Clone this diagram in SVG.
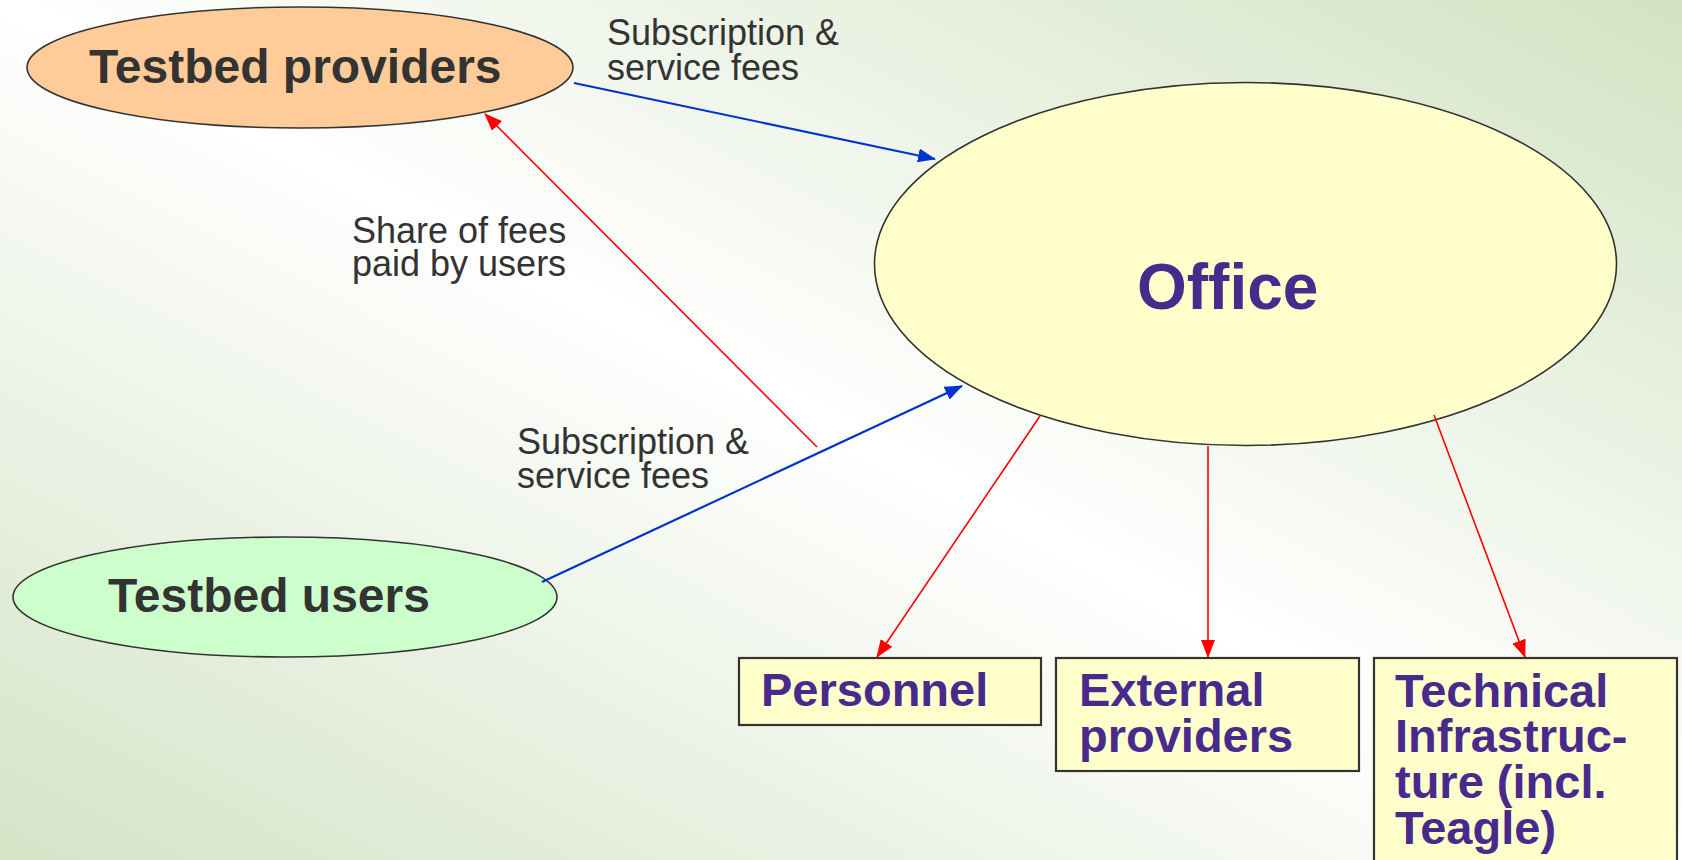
<svg xmlns="http://www.w3.org/2000/svg" width="1682" height="860" viewBox="0 0 1682 860">
<defs>
  <linearGradient id="bg" x1="1" y1="0" x2="0" y2="1">
    <stop offset="0" stop-color="#d2e3c2"/>
    <stop offset="0.5" stop-color="#ffffff"/>
    <stop offset="1" stop-color="#d4e4c6"/>
  </linearGradient>
  <marker id="arRed" markerUnits="userSpaceOnUse" markerWidth="18" markerHeight="14" refX="17" refY="7" orient="auto">
    <path d="M0,0 L18,7 L0,14 z" fill="#ff0000"/>
  </marker>
  <marker id="arBlue" markerUnits="userSpaceOnUse" markerWidth="18" markerHeight="14" refX="17" refY="7" orient="auto">
    <path d="M0,0 L18,7 L0,14 z" fill="#0033cc"/>
  </marker>
</defs>
<style>
  .ell { stroke: #333333; stroke-width: 1.6; }
  .box { fill: #ffffcc; stroke: #333333; stroke-width: 2.2; }
  .nt { font-family: "Liberation Sans", Arial, sans-serif; font-weight: bold; font-size: 48px; fill: #333333; }
  .pt { font-family: "Liberation Sans", Arial, sans-serif; font-weight: bold; font-size: 47px; fill: #482a8c; }
  .lbl { font-family: "Liberation Sans", Arial, sans-serif; font-size: 36px; fill: #333333; }
  .red { stroke: #ff0000; stroke-width: 1.6; fill: none; marker-end: url(#arRed); }
  .blue { stroke: #0033cc; stroke-width: 2.2; fill: none; marker-end: url(#arBlue); }
</style>
<rect x="0" y="0" width="1682" height="860" fill="url(#bg)"/>

<g id="providers">
  <ellipse class="ell" cx="300" cy="67.5" rx="273" ry="60.5" fill="#ffcc99"/>
  <text class="nt" x="89" y="83">Testbed providers</text>
</g>
<g id="users">
  <ellipse class="ell" cx="285" cy="597" rx="272" ry="60" fill="#ccffcc"/>
  <text class="nt" x="108" y="612">Testbed users</text>
</g>
<g id="office">
  <ellipse class="ell" cx="1245.5" cy="264" rx="371" ry="181.5" fill="#ffffcc"/>
  <text class="pt" x="1137" y="309" style="font-size:64px">Office</text>
</g>
<g id="personnel">
  <rect class="box" x="739" y="658" width="302" height="67"/>
  <text class="pt" x="761" y="706">Personnel</text>
</g>
<g id="external">
  <rect class="box" x="1056" y="658" width="303" height="113"/>
  <text class="pt" x="1079" y="706">External</text>
  <text class="pt" x="1079" y="752">providers</text>
</g>
<g id="technical">
  <rect class="box" x="1374" y="658" width="303" height="215"/>
  <text class="pt" x="1395" y="707">Technical</text>
  <text class="pt" x="1395" y="752">Infrastruc-</text>
  <text class="pt" x="1395" y="798">ture (incl.</text>
  <text class="pt" x="1395" y="844">Teagle)</text>
</g>

<g id="connectors">
  <line class="blue" x1="574" y1="83" x2="935" y2="159"/>
  <line class="red" x1="817" y1="447" x2="485" y2="114"/>
  <line class="blue" x1="542" y1="582" x2="962" y2="386"/>
  <line class="red" x1="1040" y1="416" x2="877" y2="657"/>
  <line class="red" x1="1208" y1="446" x2="1208" y2="657"/>
  <line class="red" x1="1434" y1="415" x2="1525" y2="657"/>
</g>

<g id="labels">
  <text class="lbl" x="607" y="45">Subscription &amp;</text>
  <text class="lbl" x="607" y="80">service fees</text>
  <text class="lbl" x="352" y="243">Share of fees</text>
  <text class="lbl" x="352" y="276">paid by users</text>
  <text class="lbl" x="517" y="454">Subscription &amp;</text>
  <text class="lbl" x="517" y="488">service fees</text>
</g>
</svg>
